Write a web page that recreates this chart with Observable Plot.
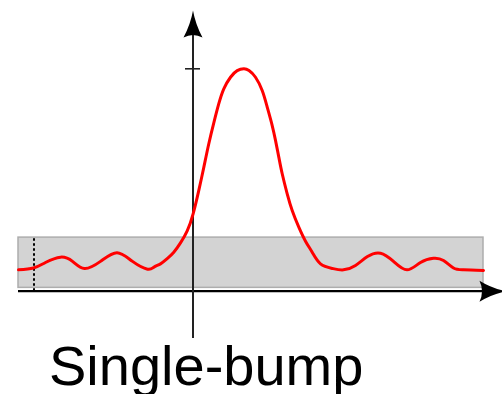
<!DOCTYPE html>
<html>
<head>
<meta charset="utf-8">
<script src="https://cdn.jsdelivr.net/npm/d3@7"></script>
<script src="https://cdn.jsdelivr.net/npm/@observablehq/plot@0.6"></script>
<style>
  html, body { margin: 0; padding: 0; background: #fff; overflow: hidden; }
  #chart svg { display: block; }
  #caption { font-family: "Liberation Sans", Arial, sans-serif; font-size: 56px; line-height: 56px; margin-left: 49px; margin-top: 0px; color: #000; }
</style>
</head>
<body>
<div id="chart"></div>
<div id="caption">Single-bump</div>
<script>
// curve samples (x, y)
const xs = [-3.49,-3.19,-2.95,-2.65,-2.41,-2.17,-1.85,-1.52,-1.21,-0.91,-0.784,-0.65,-0.516,-0.384,-0.25,-0.116,0.004,0.116,0.216,0.316,0.416,0.516,0.616,0.75,0.884,1.02,1.12,1.25,1.384,1.484,1.584,1.65,1.716,1.784,1.884,1.984,2.116,2.25,2.384,2.55,2.79,3.01,3.25,3.49,3.75,4.01,4.28,4.55,4.81,5.01,5.21,5.41,5.81];
const ys = [0.096,0.104,0.129,0.153,0.134,0.102,0.134,0.173,0.134,0.099,0.108,0.123,0.146,0.175,0.217,0.271,0.349,0.453,0.557,0.663,0.757,0.843,0.910,0.962,0.992,1.0,0.992,0.962,0.902,0.828,0.745,0.678,0.603,0.528,0.438,0.363,0.288,0.225,0.175,0.123,0.102,0.096,0.116,0.156,0.171,0.134,0.096,0.129,0.148,0.138,0.104,0.096,0.093];
// band
const bandX = [-3.49, 5.81];
const bandY = [0.015, 0.241];
// dotted marker
const markerX = [-3.18];
// axes extents
const xAxisExtent = [-3.49, 6.27];
const yAxisExtent = [-0.2127, 1.262];
const yTicks = [1];
const tickHalf = 0.15;

const curve = xs.map((x, i) => ({x, y: ys[i]}));

const upArrow = {
  draw(ctx) {
    ctx.moveTo(0, 0);
    ctx.quadraticCurveTo(2.5, 14, 9.5, 27);
    ctx.quadraticCurveTo(0, 22, -9.5, 27);
    ctx.quadraticCurveTo(-2.5, 14, 0, 0);
    ctx.closePath();
  }
};
const rightArrow = {
  draw(ctx) {
    ctx.moveTo(0, 0);
    ctx.quadraticCurveTo(-14, 2.5, -27, 10.5);
    ctx.quadraticCurveTo(-22, 0, -27, -10.5);
    ctx.quadraticCurveTo(-14, -2.5, 0, 0);
    ctx.closePath();
  }
};

const plot = Plot.plot({
  width: 502,
  height: 338,
  margin: 0,
  x: {domain: [-3.85, 6.19], axis: null},
  y: {domain: [-0.2127, 1.3071], axis: null},
  marks: [
    Plot.rect([{}], {x1: bandX[0], x2: bandX[1], y1: bandY[0], y2: bandY[1], fill: "#d3d3d3", stroke: "#adadad", strokeWidth: 1.5}),
    Plot.ruleX(markerX, {x: d => d, y1: 0, y2: bandY[1], stroke: "#000", strokeWidth: 2, strokeDasharray: "2.5,2.5"}),
    Plot.ruleY([0], {x1: xAxisExtent[0], x2: xAxisExtent[1] - 0.3, stroke: "#000", strokeWidth: 2.2}),
    Plot.ruleX([0], {y1: yAxisExtent[0], y2: yAxisExtent[1] - 0.05, stroke: "#222", strokeWidth: 2}),
    Plot.ruleY(yTicks, {x1: -tickHalf, x2: tickHalf, stroke: "#222", strokeWidth: 1.6}),
    Plot.line(curve, {x: "x", y: "y", stroke: "#ff0000", strokeWidth: 3, curve: "natural"}),
    Plot.dot([{}], {x: 0, y: yAxisExtent[1], symbol: upArrow, fill: "#000", stroke: null}),
    Plot.dot([{}], {x: xAxisExtent[1], y: 0, symbol: rightArrow, fill: "#000", stroke: null})
  ]
});
document.getElementById("chart").appendChild(plot);
</script>
</body>
</html>
